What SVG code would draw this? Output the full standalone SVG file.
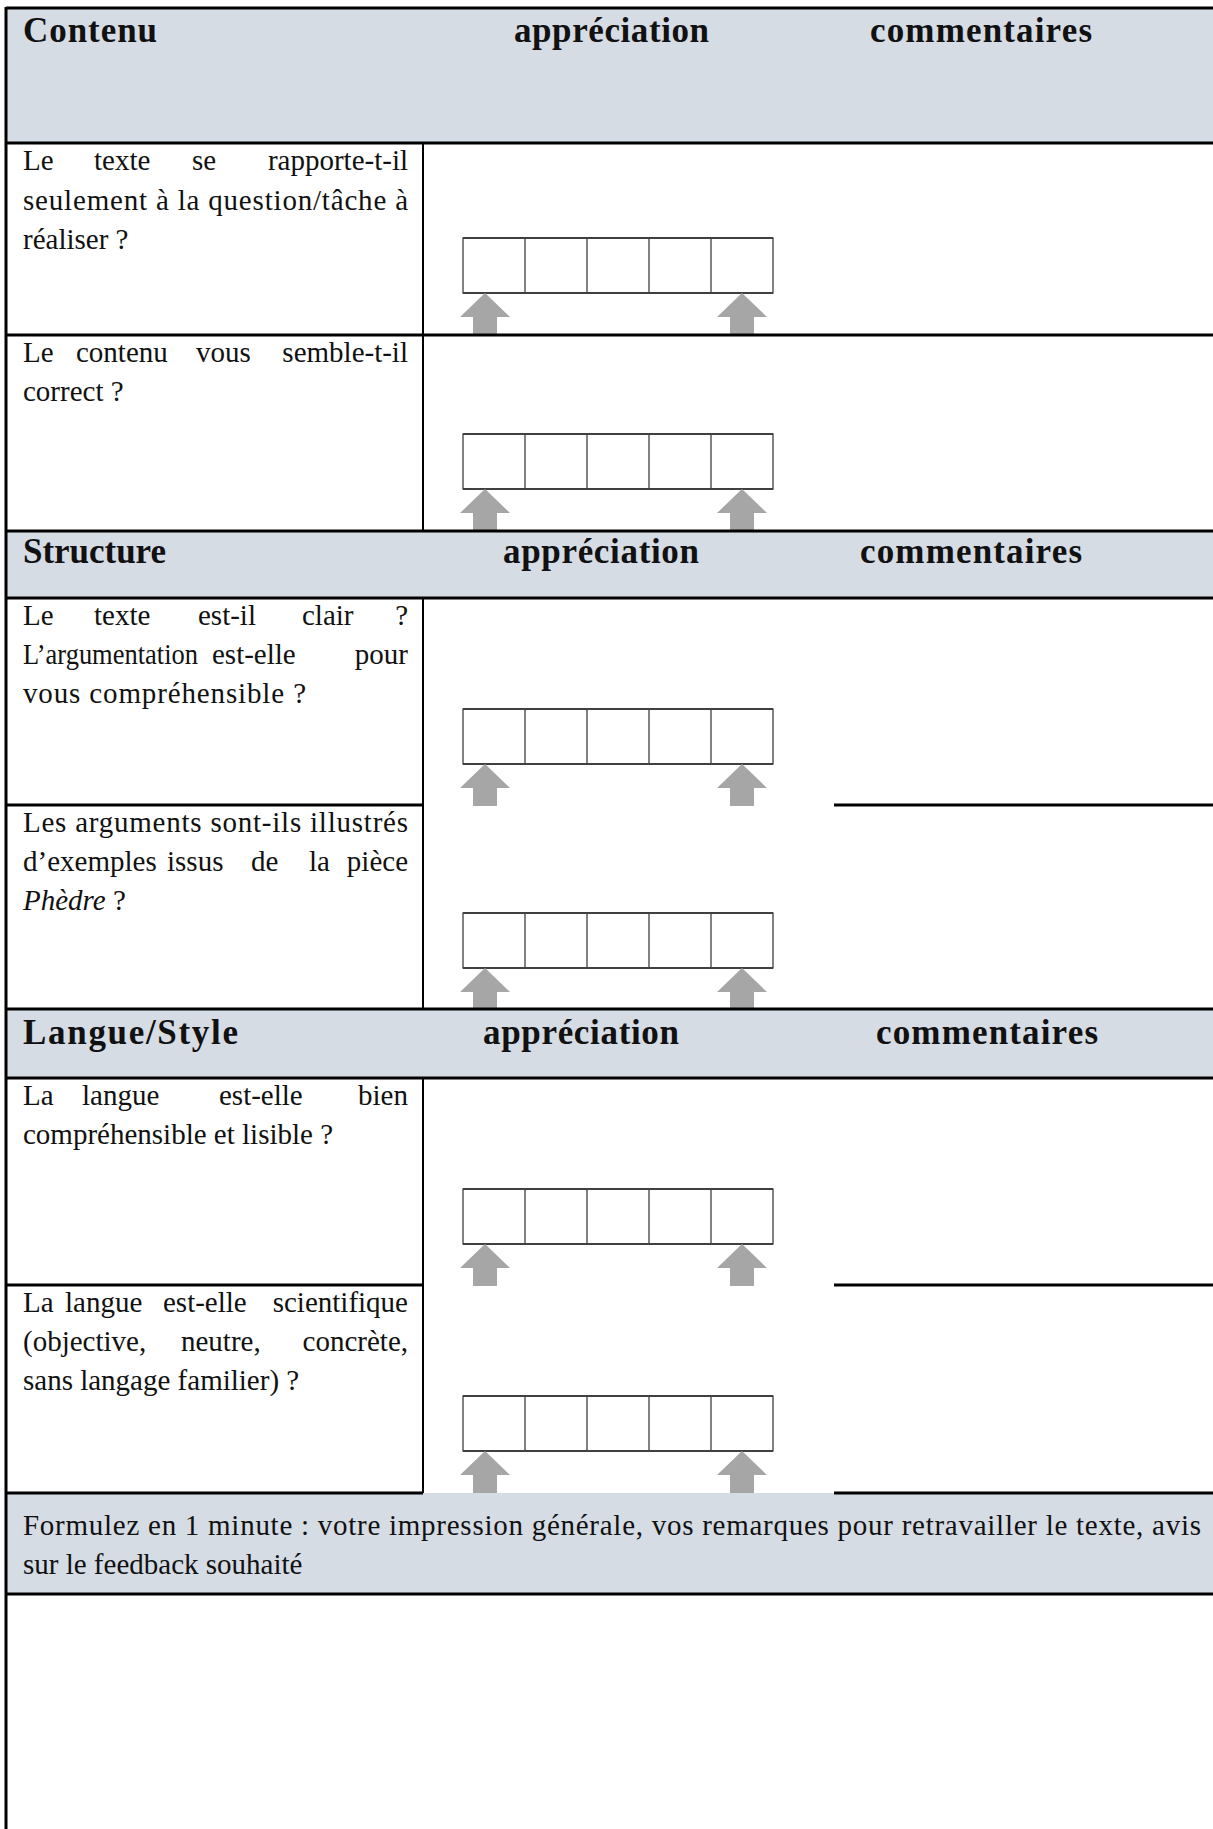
<svg xmlns="http://www.w3.org/2000/svg" width="1213" height="1829" viewBox="0 0 1213 1829">
<style>
.hd{fill:#d5dce4}
text{font-family:'Liberation Serif','Times New Roman',Times,serif}
.b{fill:#111;font-size:35px;font-weight:bold}
.t{fill:#111;font-size:29px}
.it{font-style:italic}
.ln{stroke:#000;stroke-width:3;fill:none}
.dv{stroke:#000;stroke-width:2;fill:none}
.bx{fill:none;stroke:#404040;stroke-width:1.3}
.bh{stroke:#404040;stroke-width:2.2}
.ar{fill:#a6a6a6}
</style>
<defs>
<g id="scale">
<rect class="bx" x="0" y="0" width="310" height="55"/>
<path class="bx" d="M62 0V55M124 0V55M186 0V55M248 0V55"/>
<path class="bh" d="M0 0H310M0 55H310"/>
<path class="ar" d="M22 55L47 79H34V97H10V79H-3Z"/>
<path class="ar" d="M279 55L304 79H291V97H267V79H254Z"/>
</g>
</defs>
<rect width="1213" height="1829" fill="#fff"/>

<g id="header-contenu">
<rect class="hd" x="6" y="8" width="1210" height="135"/>
<text class="b" x="23" y="42" textLength="134" lengthAdjust="spacing">Contenu</text>
<text class="b" x="514" y="42" textLength="195" lengthAdjust="spacing">appréciation</text>
<text class="b" x="870" y="42" textLength="222" lengthAdjust="spacing">commentaires</text>
</g>

<g id="row-1">
<text class="t" y="170"><tspan x="23">Le</tspan><tspan x="94">texte</tspan><tspan x="192">se</tspan><tspan x="408" text-anchor="end">rapporte-t-il</tspan></text>
<text class="t" x="23" y="210" textLength="385" lengthAdjust="spacing">seulement à la question/tâche à</text>
<text class="t" x="23" y="249">réaliser ?</text>
<use href="#scale" x="463" y="238"/>
</g>

<g id="row-2">
<text class="t" y="362"><tspan x="23">Le</tspan><tspan x="76">contenu</tspan><tspan x="196">vous</tspan><tspan x="408" text-anchor="end">semble-t-il</tspan></text>
<text class="t" x="23" y="401">correct ?</text>
<use href="#scale" x="463" y="434"/>
</g>

<g id="header-structure">
<rect class="hd" x="6" y="531" width="1210" height="67"/>
<text class="b" x="23" y="563" textLength="143" lengthAdjust="spacing">Structure</text>
<text class="b" x="503" y="563" textLength="196" lengthAdjust="spacing">appréciation</text>
<text class="b" x="860" y="563" textLength="222" lengthAdjust="spacing">commentaires</text>
</g>

<g id="row-3">
<text class="t" y="625"><tspan x="23">Le</tspan><tspan x="94">texte</tspan><tspan x="198">est-il</tspan><tspan x="302">clair</tspan><tspan x="408" text-anchor="end">?</tspan></text>
<text class="t" y="664"><tspan x="23" textLength="175" lengthAdjust="spacingAndGlyphs">L’argumentation</tspan><tspan x="212">est-elle</tspan><tspan x="408" text-anchor="end">pour</tspan></text>
<text class="t" x="23" y="703" textLength="283" lengthAdjust="spacing">vous compréhensible ?</text>
<use href="#scale" x="463" y="709"/>
</g>

<g id="row-4">
<text class="t" x="23" y="832" textLength="385" lengthAdjust="spacing">Les arguments sont-ils illustrés</text>
<text class="t" y="871"><tspan x="23">d’exemples</tspan><tspan x="167">issus</tspan><tspan x="251">de</tspan><tspan x="309">la</tspan><tspan x="408" text-anchor="end">pièce</tspan></text>
<text class="t" x="23" y="910"><tspan class="it">Phèdre</tspan> ?</text>
<use href="#scale" x="463" y="913"/>
</g>

<g id="header-langue">
<rect class="hd" x="6" y="1009" width="1210" height="69"/>
<text class="b" x="23" y="1044" textLength="215" lengthAdjust="spacing">Langue/Style</text>
<text class="b" x="483" y="1044" textLength="196" lengthAdjust="spacing">appréciation</text>
<text class="b" x="876" y="1044" textLength="222" lengthAdjust="spacing">commentaires</text>
</g>

<g id="row-5">
<text class="t" y="1105"><tspan x="23">La</tspan><tspan x="82">langue</tspan><tspan x="219">est-elle</tspan><tspan x="408" text-anchor="end">bien</tspan></text>
<text class="t" x="23" y="1144">compréhensible et lisible ?</text>
<use href="#scale" x="463" y="1189"/>
</g>

<g id="row-6">
<text class="t" y="1312"><tspan x="23">La</tspan><tspan x="65">langue</tspan><tspan x="163">est-elle</tspan><tspan x="408" text-anchor="end">scientifique</tspan></text>
<text class="t" y="1351"><tspan x="23">(objective,</tspan><tspan x="181">neutre,</tspan><tspan x="408" text-anchor="end">concrète,</tspan></text>
<text class="t" x="23" y="1390">sans langage familier) ?</text>
<use href="#scale" x="463" y="1396"/>
</g>

<g id="header-formulez">
<rect class="hd" x="6" y="1493" width="1210" height="101"/>
<text class="t" x="23" y="1535" textLength="1178" lengthAdjust="spacing">Formulez en 1 minute : votre impression générale, vos remarques pour retravailler le texte, avis</text>
<text class="t" x="23" y="1574">sur le feedback souhaité</text>
</g>

<g id="connectors">
<path class="ln" d="M6 8H1216M6 143H1216M6 335H1216M6 531H1216M6 598H1216M6 1009H1216M6 1078H1216M6 1594H1216"/>
<path class="ln" d="M6 805H423M834 805H1216M6 1285H423M834 1285H1216M6 1493H423M834 1493H1216"/>
<path class="ln" d="M6 7V1829"/>
<path class="dv" d="M423 143V531M423 598V1009M423 1078V1493"/>
</g>
</svg>
